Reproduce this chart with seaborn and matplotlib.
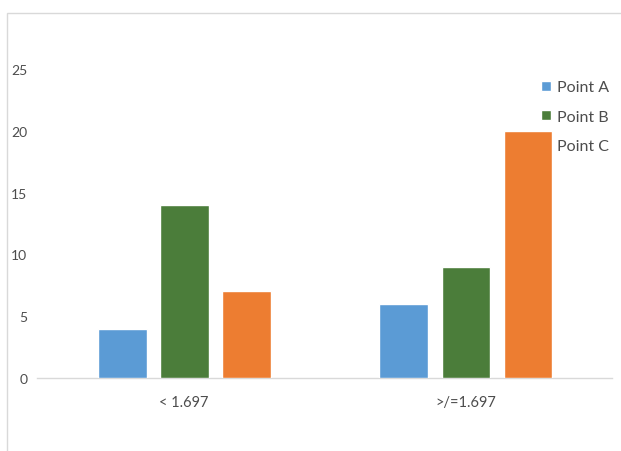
import seaborn as sns
import matplotlib.pyplot as plt
import pandas as pd
from matplotlib.patches import Rectangle

# chart values
categories = ["< 1.697", ">/=1.697"]
series_names = ["Point A", "Point B", "Point C"]
point_a = [4, 6]
point_b = [14, 9]
point_c = [7, 20]
colors = ["#5B9BD5", "#4B7D3A", "#ED7D31"]

rows = []
for name, vals in zip(series_names, [point_a, point_b, point_c]):
    for cat, v in zip(categories, vals):
        rows.append({"group": cat, "series": name, "value": v})
df = pd.DataFrame(rows)

sns.set_style("white")
plt.rcParams['font.family'] = ['Lato', 'DejaVu Sans']

W, H = 621, 452
fig = plt.figure(figsize=(W / 100, H / 100), dpi=100)
ax = fig.add_axes([37 / W, (H - 379) / H, (612 - 37) / W, (379 - 70) / H])

sns.barplot(data=df, x="group", y="value", hue="series", palette=colors,
            width=0.66, gap=0.21, saturation=1, ax=ax, zorder=3)

ax.set_ylim(0, 25)
ax.set_yticks([0, 5, 10, 15, 20, 25])
ax.set_xlim(-0.522, 1.518)
ax.set_xlabel("")
ax.set_ylabel("")
for s in ["top", "right", "left"]:
    ax.spines[s].set_visible(False)
ax.spines["bottom"].set_color("#D9D9D9")
ax.spines["bottom"].set_linewidth(1.0)
ax.tick_params(axis="both", length=0, colors="#4D4D4D")
ax.tick_params(axis="y", labelsize=10, pad=7)
ax.tick_params(axis="x", labelsize=10.5, pad=12)

leg = ax.legend(loc="upper left", bbox_to_anchor=(527 / W, 1 - 67 / H),
                bbox_transform=fig.transFigure, frameon=False,
                handlelength=0.6, handleheight=0.6, handletextpad=0.35,
                labelspacing=0.95, fontsize=11.5, labelcolor="#4D4D4D")
leg.set_zorder(1)

# outer chart border (light gray, clipped at right/bottom in the reference)
fig.patches.append(Rectangle((7 / W, -0.1), 1.2, 1 - 14 / H + 0.1,
                             transform=fig.transFigure, fill=False,
                             edgecolor="#D9D9D9", linewidth=1.0))

plt.savefig("out.png", dpi=100)
